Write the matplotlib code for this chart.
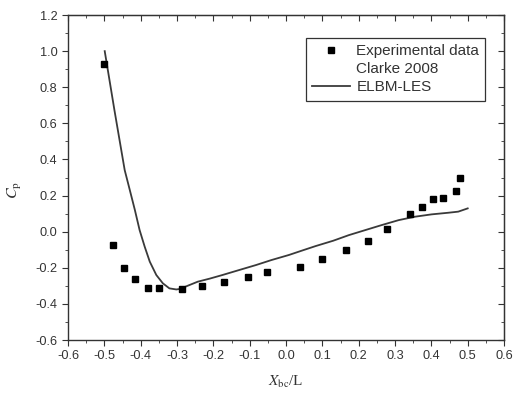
import numpy as np
import matplotlib
matplotlib.use("Agg")
import matplotlib.pyplot as plt
from matplotlib.lines import Line2D
from matplotlib.ticker import MultipleLocator

# experimental data (Clarke 2008)
exp_x = [-0.501, -0.475, -0.445, -0.416, -0.380, -0.350, -0.287, -0.231, -0.170,
         -0.106, -0.051, 0.038, 0.100, 0.165, 0.225, 0.279, 0.340, 0.374,
         0.404, 0.431, 0.469, 0.480]
exp_cp = [0.928, -0.074, -0.201, -0.264, -0.314, -0.314, -0.318, -0.301, -0.281,
          -0.251, -0.225, -0.194, -0.151, -0.102, -0.050, 0.013, 0.099, 0.138,
          0.179, 0.186, 0.227, 0.300]

# ELBM-LES curve
les_x = [-0.499, -0.472, -0.444, -0.430, -0.416, -0.403, -0.389, -0.375, -0.357,
         -0.339, -0.321, -0.302, -0.288, -0.275, -0.243, -0.210, -0.175, -0.130,
         -0.083, -0.040, 0.008, 0.045, 0.081, 0.130, 0.173, 0.220, 0.264, 0.310,
         0.355, 0.401, 0.447, 0.474, 0.500]
les_cp = [1.000, 0.670, 0.341, 0.231, 0.120, 0.009, -0.083, -0.166, -0.240,
          -0.286, -0.314, -0.320, -0.316, -0.303, -0.277, -0.260, -0.240, -0.213,
          -0.185, -0.157, -0.129, -0.104, -0.080, -0.050, -0.019, 0.010, 0.037,
          0.064, 0.083, 0.096, 0.105, 0.111, 0.129]

dark = "#333333"
plt.rcParams['font.family'] = ['Liberation Sans', 'DejaVu Sans']

fig = plt.figure(figsize=(5.13, 3.96), dpi=100)
ax = fig.add_axes([0.1326, 0.1414, 0.8499, 0.8206])

ax.plot(les_x, les_cp, color="#3a3a3a", lw=1.3)
ax.plot(exp_x, exp_cp, linestyle="none", marker="s", ms=4.5, color="black")

ax.set_xlim(-0.6, 0.6)
ax.set_ylim(-0.6, 1.2)
xt = np.round(np.arange(-0.6, 0.61, 0.1), 1)
yt = np.round(np.arange(-0.6, 1.21, 0.2), 1)
ax.set_xticks(xt)
ax.set_xticklabels(["%.1f" % (v + 0.0) for v in xt])
ax.set_yticks(yt)
ax.set_yticklabels(["%.1f" % (v + 0.0) for v in yt])
ax.xaxis.set_minor_locator(MultipleLocator(0.05))
ax.yaxis.set_minor_locator(MultipleLocator(0.1))

for s in ax.spines.values():
    s.set_color(dark)
    s.set_linewidth(1.0)
ax.tick_params(which="both", direction="out", colors=dark, labelsize=9.2,
               labelcolor=dark)
ax.tick_params(which="major", length=4)
ax.tick_params(which="minor", length=2.5)

# inward ticks on top and right
sec_x = ax.secondary_xaxis("top")
sec_x.xaxis.set_major_locator(MultipleLocator(0.1))
sec_x.xaxis.set_minor_locator(MultipleLocator(0.05))
sec_x.tick_params(which="both", direction="in", labeltop=False, colors=dark)
sec_x.tick_params(which="major", length=4)
sec_x.tick_params(which="minor", length=2.5)
sec_x.spines["top"].set_color(dark)
sec_y = ax.secondary_yaxis("right")
sec_y.yaxis.set_major_locator(MultipleLocator(0.2))
sec_y.yaxis.set_minor_locator(MultipleLocator(0.1))
sec_y.tick_params(which="both", direction="in", labelright=False, colors=dark)
sec_y.tick_params(which="major", length=4)
sec_y.tick_params(which="minor", length=2.5)
sec_y.spines["right"].set_color(dark)

ax.set_xlabel(r"$X_{\rm bc}$/L", family="Liberation Serif", fontsize=11,
              color=dark, labelpad=8, math_fontfamily="stix")
ax.set_ylabel(r"$C_{\rm p}$", fontsize=11.5, color=dark,
              math_fontfamily="stix")
ax.yaxis.set_label_coords(-0.1, 0.46)

handles = [Line2D([], [], linestyle="none", marker="s", ms=4.5, color="black"),
           Line2D([], [], linestyle="none"),
           Line2D([], [], color="#3a3a3a", lw=1.3)]
labels = ["Experimental data", "Clarke 2008", "ELBM-LES"]
leg = ax.legend(handles, labels, loc="upper right", bbox_to_anchor=(0.957, 0.93),
                borderaxespad=0, fontsize=11, frameon=True, fancybox=False,
                framealpha=1, edgecolor=dark, handlelength=2.5,
                handletextpad=0.4, labelspacing=0.28, borderpad=0.4)
leg.get_frame().set_linewidth(0.9)
for t in leg.get_texts():
    t.set_color(dark)

fig.savefig("out.png", dpi=100)
